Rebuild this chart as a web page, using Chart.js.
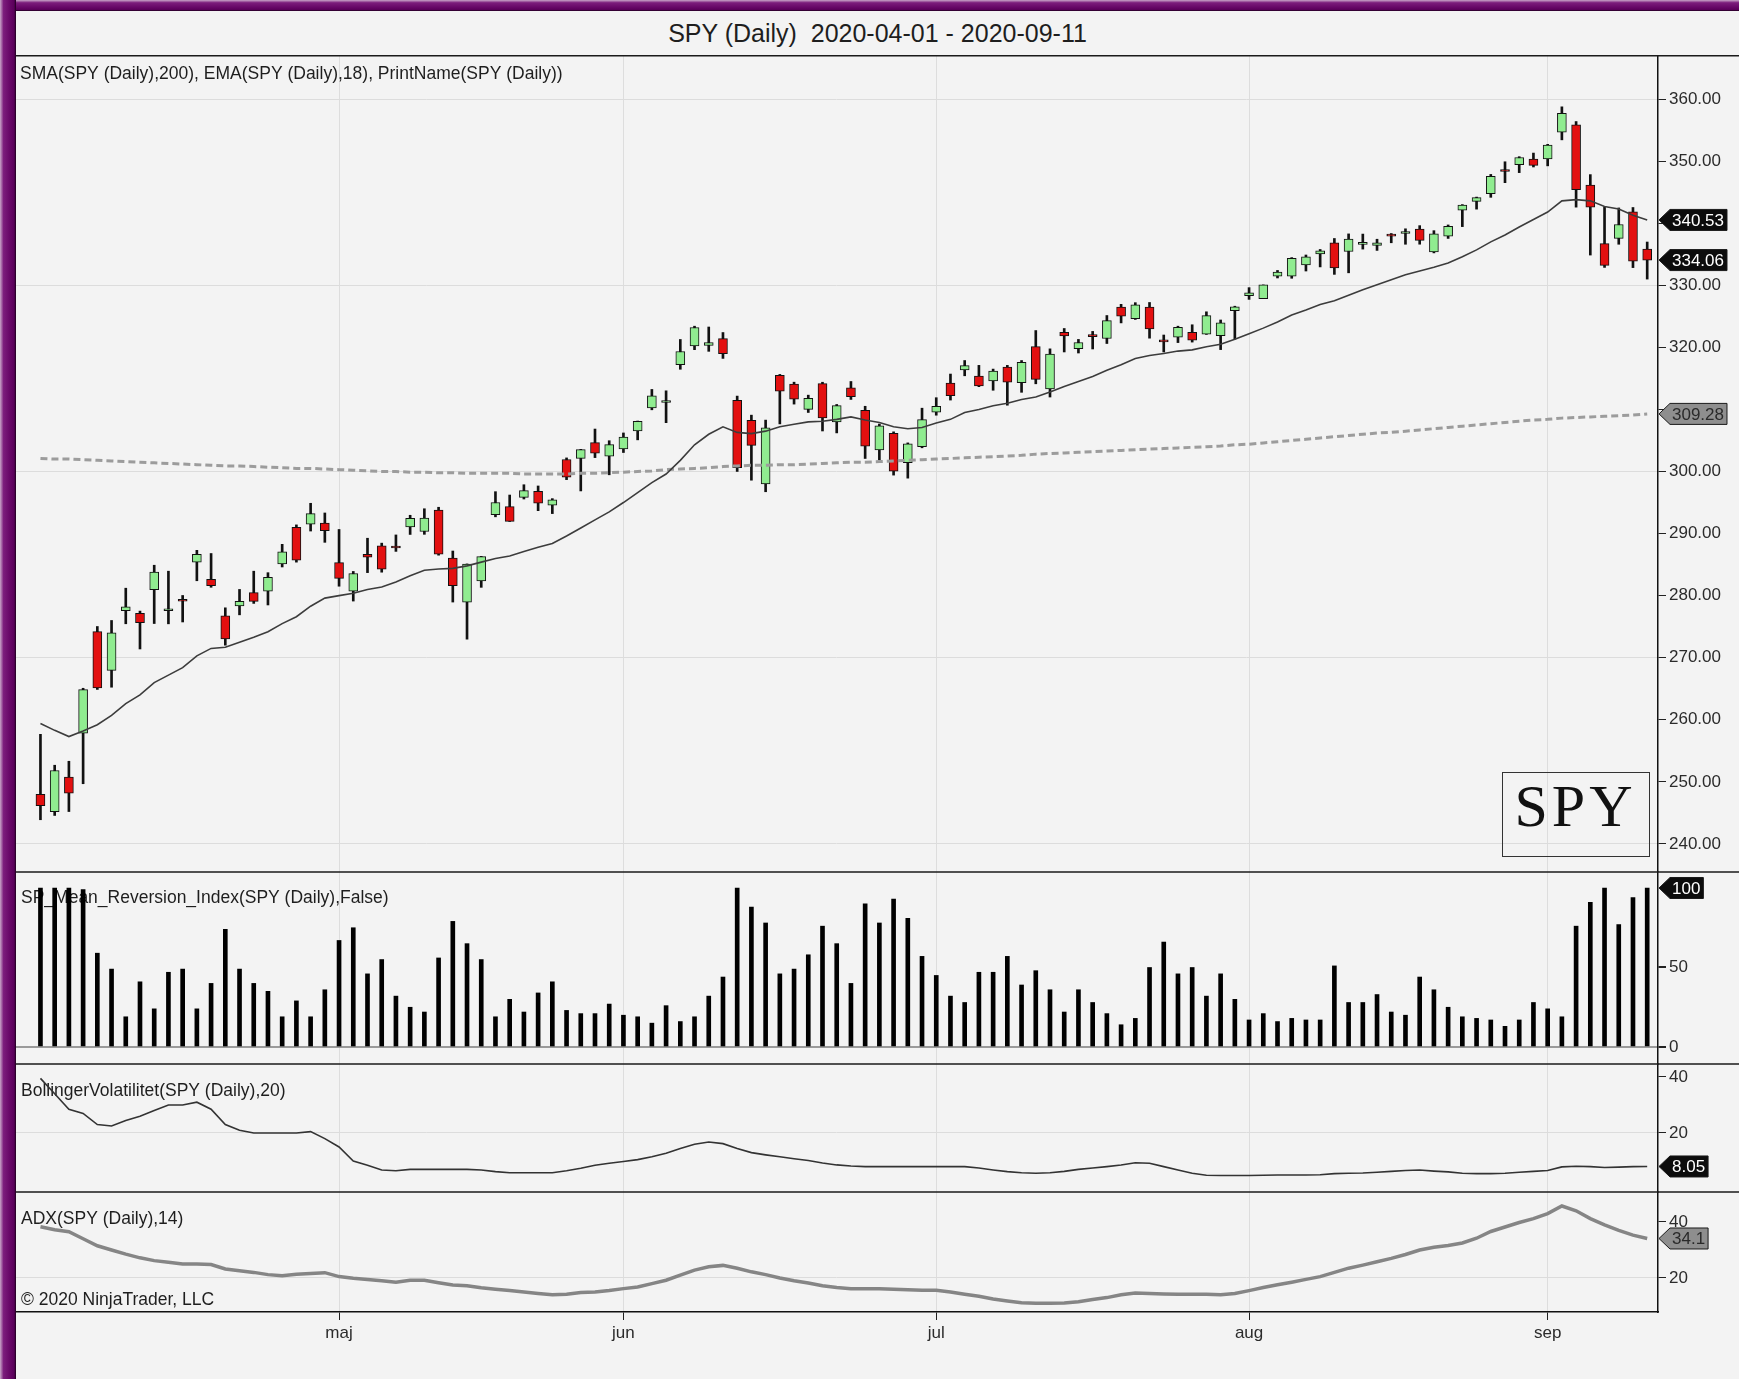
<!DOCTYPE html>
<html>
<head>
<meta charset="utf-8">
<script src="https://cdn.jsdelivr.net/npm/chart.js@4.4.1/dist/chart.umd.min.js"></script>
<style>
  html, body { margin: 0; padding: 0; }
  body { width: 1739px; height: 1379px; position: relative; overflow: hidden; background: #f3f3f3; font-family: "Liberation Sans", Arial, sans-serif; }
  #frameLeft { position: absolute; left: 0; top: 0; width: 16px; height: 1379px; background: linear-gradient(to right, #c9a6c9 0%, #7c1d7c 22%, #680868 60%, #5a005a 88%, #1c001c 100%); }
  #frameTop { position: absolute; left: 0; top: 0; width: 1739px; height: 11px; background: linear-gradient(to bottom, #c9a6c9 0%, #7c1d7c 25%, #680868 65%, #5a005a 88%, #1c001c 100%); }
  #title { position: absolute; left: 16px; width: 1723px; top: 18px; line-height: 30px; text-align: center; font-size: 25px; color: #1e1e1e; }
  #wrap { position: absolute; left: 16px; top: 55px; width: 1723px; height: 1324px; }
</style>
</head>
<body>
<div id="frameTop"></div>
<div id="frameLeft"></div>
<div id="title">SPY (Daily)&nbsp; 2020-04-01 - 2020-09-11</div>
<div id="wrap"><canvas id="spyChart"></canvas></div>
<script>
// trading days shown on the chart
const dates = [
  "2020-04-01","2020-04-02","2020-04-03","2020-04-06","2020-04-07","2020-04-08","2020-04-09","2020-04-13","2020-04-14","2020-04-15",
  "2020-04-16","2020-04-17","2020-04-20","2020-04-21","2020-04-22","2020-04-23","2020-04-24","2020-04-27","2020-04-28","2020-04-29",
  "2020-04-30","2020-05-01","2020-05-04","2020-05-05","2020-05-06","2020-05-07","2020-05-08","2020-05-11","2020-05-12","2020-05-13",
  "2020-05-14","2020-05-15","2020-05-18","2020-05-19","2020-05-20","2020-05-21","2020-05-22","2020-05-26","2020-05-27","2020-05-28",
  "2020-05-29","2020-06-01","2020-06-02","2020-06-03","2020-06-04","2020-06-05","2020-06-08","2020-06-09","2020-06-10","2020-06-11",
  "2020-06-12","2020-06-15","2020-06-16","2020-06-17","2020-06-18","2020-06-19","2020-06-22","2020-06-23","2020-06-24","2020-06-25",
  "2020-06-26","2020-06-29","2020-06-30","2020-07-01","2020-07-02","2020-07-06","2020-07-07","2020-07-08","2020-07-09","2020-07-10",
  "2020-07-13","2020-07-14","2020-07-15","2020-07-16","2020-07-17","2020-07-20","2020-07-21","2020-07-22","2020-07-23","2020-07-24",
  "2020-07-27","2020-07-28","2020-07-29","2020-07-30","2020-07-31","2020-08-03","2020-08-04","2020-08-05","2020-08-06","2020-08-07",
  "2020-08-10","2020-08-11","2020-08-12","2020-08-13","2020-08-14","2020-08-17","2020-08-18","2020-08-19","2020-08-20","2020-08-21",
  "2020-08-24","2020-08-25","2020-08-26","2020-08-27","2020-08-28","2020-08-31","2020-09-01","2020-09-02","2020-09-03","2020-09-04",
  "2020-09-08","2020-09-09","2020-09-10","2020-09-11"
];

const openP = [
  247.98,245.19,250.76,257.84,274.21,267.96,277.58,277.14,280.98,277.57,
  279.15,285.38,282.61,276.73,278.35,280.49,280.73,285.12,291.02,291.53,
  291.71,285.31,280.74,286.64,288.04,287.75,291.09,290.34,293.79,286.06,
  278.95,282.37,293.05,294.35,295.82,296.79,294.57,301.93,302.12,304.65,
  302.46,303.62,306.55,310.24,311.11,317.23,320.22,320.30,321.42,311.46,
  308.24,298.02,315.48,314.07,310.01,314.17,307.99,313.49,309.84,303.47,
  306.16,301.41,303.99,309.57,314.24,316.37,315.38,314.61,316.84,314.31,
  320.13,313.30,322.41,319.79,321.88,321.43,326.47,324.62,326.47,320.95,
  321.63,322.43,322.12,321.90,325.90,328.32,327.86,331.47,331.48,333.28,
  335.06,336.85,335.44,336.60,336.41,337.94,338.34,339.05,335.36,337.92,
  342.12,343.53,344.76,348.51,349.44,350.35,350.35,354.67,355.87,346.13,
  336.71,337.55,341.82,335.82
];
const highP = [
  257.66,252.68,253.32,265.08,275.03,276.00,281.20,277.51,284.90,283.94,
  280.03,287.30,286.79,278.04,281.00,283.94,283.70,288.27,291.40,294.88,
  293.32,290.66,283.90,289.25,288.46,289.78,292.95,294.00,294.24,287.19,
  285.11,286.33,296.75,296.21,297.87,297.67,295.63,302.19,303.57,306.84,
  304.96,306.21,308.13,313.22,313.00,321.27,323.41,323.28,322.39,312.15,
  309.08,308.28,315.64,314.39,312.30,314.38,310.80,314.50,310.51,307.64,
  306.39,304.61,310.20,311.89,315.70,317.88,317.10,316.50,317.10,317.88,
  322.71,319.76,323.04,321.28,322.57,325.13,326.93,327.20,327.23,321.99,
  323.41,323.64,325.73,324.41,326.63,329.62,330.06,332.39,334.46,334.88,
  335.77,337.54,338.28,338.25,337.42,338.34,339.10,339.61,338.80,339.72,
  343.00,344.21,347.86,349.90,350.72,351.30,352.71,358.75,356.38,347.83,
  342.64,342.46,342.53,336.97
];
const lowP = [
  243.90,244.59,245.22,249.70,264.89,265.25,275.47,271.41,275.51,275.46,
  275.76,282.40,281.35,272.02,276.91,278.75,278.50,284.62,285.40,290.41,
  288.59,281.52,279.13,283.71,283.78,287.13,289.86,289.88,286.52,278.97,
  272.99,281.34,292.70,291.95,295.57,293.69,293.22,298.69,296.87,302.24,
  299.47,303.06,305.10,309.94,307.87,316.47,319.63,319.36,318.22,300.01,
  298.60,296.74,307.67,310.86,309.51,306.53,306.22,311.61,302.10,301.88,
  299.42,298.93,303.82,309.07,311.51,315.42,313.67,313.09,310.68,312.76,
  314.13,312.00,319.26,319.09,319.74,320.62,323.94,324.50,321.48,319.25,
  320.77,320.85,322.08,319.64,321.33,327.73,327.86,331.18,331.13,332.30,
  332.96,331.76,332.01,335.83,335.62,336.85,336.61,336.62,335.22,337.55,
  339.45,342.27,344.17,346.53,348.15,349.06,349.24,353.43,342.59,334.87,
  332.88,336.61,332.85,331.00
];
const closeP = [
  246.15,251.83,248.19,264.86,265.13,274.03,278.20,275.66,283.79,277.76,
  279.10,286.64,281.59,273.04,279.08,279.08,282.97,287.05,285.73,293.21,
  290.48,282.79,283.57,286.19,284.25,287.68,292.44,292.50,286.67,281.60,
  285.07,286.28,295.00,291.97,296.93,294.88,295.44,299.08,303.53,302.97,
  304.32,305.55,308.08,312.18,311.36,319.34,323.20,320.79,319.00,300.61,
  304.21,307.05,312.96,311.66,311.78,308.64,310.62,312.05,304.09,307.35,
  300.05,304.46,308.36,310.52,312.23,317.05,313.78,316.18,314.38,317.59,
  314.84,318.92,321.85,320.79,321.72,324.32,325.01,326.86,322.96,320.88,
  323.22,321.17,325.12,323.96,326.52,328.79,330.06,332.11,334.33,334.57,
  335.57,332.80,337.44,336.83,336.84,337.91,338.64,337.23,338.28,339.48,
  342.92,344.12,347.57,348.33,350.58,349.31,352.60,357.70,345.39,342.57,
  333.21,339.79,333.89,334.06
];

const ema18 = [
  259.4,258.3,257.3,258.2,259.2,260.7,262.6,264.0,266.0,267.2,
  268.4,270.3,271.5,271.7,272.5,273.3,274.2,275.5,276.6,278.3,
  279.6,280.0,280.4,281.0,281.4,282.2,283.2,284.1,284.3,284.4,
  284.8,285.4,286.0,286.4,287.1,287.8,288.4,289.6,290.9,292.2,
  293.5,295.0,296.6,298.2,299.6,301.8,304.3,306.0,307.2,306.3,
  306.1,306.5,307.2,307.6,308.0,308.1,308.4,308.8,308.3,307.9,
  307.2,306.9,307.1,307.8,308.4,309.5,310.0,310.6,311.0,311.6,
  312.0,312.8,313.7,314.5,315.3,316.3,317.2,318.2,318.7,319.0,
  319.4,319.6,320.1,320.5,321.3,322.2,323.1,324.1,325.2,326.0,
  326.9,327.5,328.4,329.3,330.1,330.9,331.7,332.3,332.9,333.6,
  334.6,335.7,337.0,338.1,339.4,340.6,341.8,343.6,343.8,343.6,
  342.7,342.3,341.3,340.53
];
const sma200 = [
  302.1,302.0,302.0,301.9,301.8,301.7,301.6,301.5,301.4,301.3,
  301.2,301.1,301.0,300.9,300.9,300.8,300.7,300.6,300.5,300.5,
  300.4,300.3,300.2,300.1,300.0,300.0,299.9,299.9,299.8,299.8,
  299.7,299.7,299.7,299.7,299.6,299.6,299.6,299.6,299.7,299.7,
  299.8,299.9,300.0,300.1,300.3,300.4,300.5,300.6,300.8,300.9,
  301.0,301.0,301.1,301.1,301.2,301.3,301.4,301.5,301.5,301.6,
  301.7,301.8,301.9,302.0,302.1,302.2,302.3,302.4,302.5,302.6,
  302.8,302.9,303.0,303.1,303.2,303.3,303.4,303.5,303.6,303.7,
  303.8,303.9,304.0,304.1,304.3,304.4,304.6,304.8,305.0,305.2,
  305.4,305.6,305.8,306.0,306.2,306.3,306.5,306.7,306.9,307.1,
  307.3,307.5,307.7,307.9,308.1,308.3,308.4,308.6,308.7,308.8,
  308.9,309.0,309.1,309.28
];

const meanRev = [
  100,100,100,99,59,49,19,41,24,47,
  49,24,40,74,49,40,35,19,29,19,
  36,67,75,46,55,32,25,22,56,79,
  65,55,19,30,22,34,41,23,21,21,
  27,20,19,15,26,16,19,32,44,100,
  88,78,46,49,58,76,65,40,90,78,
  93,81,57,45,32,28,47,47,57,39,
  48,36,22,36,28,21,14,18,50,66,
  46,50,32,46,30,17,21,16,18,17,
  17,51,28,28,33,22,20,44,36,25,
  19,18,17,13,17,28,24,19,76,91,
  100,77,94,100
];
const bollVol = [
  39.5,34,28.5,27,23,22.5,24.5,26,28,30,
  30,31,28.5,23,21,20,20,20,20,20.5,
  18,15,10,8.5,6.8,6.5,7,7,7,7,
  7,6.8,6.2,5.8,5.8,5.8,5.8,6.5,7.4,8.5,
  9.2,9.8,10.5,11.5,12.8,14.5,16,16.8,16.2,14.5,
  13,12.2,11.5,10.8,10.2,9.3,8.6,8.2,8,8,
  8,8,8,8,8,8,7.5,6.8,6.2,5.8,
  5.6,5.8,6.3,7.0,7.5,8.0,8.6,9.4,9.2,8.0,
  6.8,5.6,4.9,4.8,4.8,4.8,4.9,5.0,5.0,5.0,
  5.1,5.5,5.6,5.7,6.0,6.3,6.6,6.8,6.4,6.1,
  5.6,5.5,5.5,5.6,6.0,6.3,6.6,7.9,8.1,8.0,
  7.7,7.8,8.0,8.05
];
const adx14 = [
  38.3,37.2,36.5,34,31.5,30,28.5,27.2,26.2,25.6,
  25,25,24.8,23.2,22.6,22,21.2,20.8,21.3,21.6,
  21.9,20.5,19.9,19.5,19,18.5,19.2,19.2,18.3,17.5,
  17.2,16.5,16,15.5,15,14.5,14,14.2,14.8,15,
  15.5,16.2,16.8,18,19.2,21,22.8,24,24.5,23.5,
  22.2,21.2,20,19,18.2,17.2,16.6,16.2,16.2,16.2,
  16,15.8,15.6,15.6,15,14.2,13.5,12.5,11.8,11.2,
  11,11,11.1,11.5,12.3,13,14,14.6,14.5,14.3,
  14.2,14.2,14.2,14,14.5,15.5,16.6,17.6,18.5,19.5,
  20.5,22,23.5,24.6,25.8,27,28.4,30,31,31.6,
  32.5,34.2,36.6,38.2,39.8,41.2,43,45.7,44,41.2,
  39,37,35.3,34.1
];

const monthNames = { "05": "maj", "06": "jun", "07": "jul", "08": "aug", "09": "sep" };
const priceTicks = [240, 250, 260, 270, 280, 290, 300, 310, 320, 330, 340, 350, 360];
const priceGrid = [240, 270, 300, 330, 360];
const mrTicks = [0, 50];
const bvTicks = [20, 40];
const adxTicks = [20, 40];
const panelLabels = [
  "SMA(SPY (Daily),200), EMA(SPY (Daily),18), PrintName(SPY (Daily))",
  "SP_Mean_Reversion_Index(SPY (Daily),False)",
  "BollingerVolatilitet(SPY (Daily),20)",
  "ADX(SPY (Daily),14)"
];
const copyrightText = "\u00a9 2020 NinjaTrader, LLC";
const instrument = "SPY";

// first trading day of each month gets a tick
const monthStarts = [];
const monthLabels = [];
dates.forEach((d, i) => {
  const m = d.slice(5, 7);
  if (i > 0 && m !== dates[i - 1].slice(5, 7)) {
    monthStarts.push(i);
    monthLabels.push(monthNames[m]);
  }
});

const last = dates.length - 1;
const bodyColors = openP.map((o, i) => (closeP[i] >= o ? "#90ec90" : "#e31010"));

// price labels sitting under one of the last-value tags are not printed
const priceTags = [sma200[last], ema18[last], closeP[last]];
const priceLabel = v => (priceTags.some(t => Math.abs(t - v) < 1.5) ? "" : v.toFixed(2));

Chart.defaults.font.family = '"Liberation Sans", Arial, sans-serif';

const FONT = '17px "Liberation Sans", Arial, sans-serif';
const LABEL_FONT = '17.5px "Liberation Sans", Arial, sans-serif';

function drawTag(ctx, x, y, text, bg, fg) {
  ctx.font = FONT;
  const w = ctx.measureText(text).width;
  const h = 21, tip = 12;
  const right = x + tip + w + 5;
  ctx.beginPath();
  ctx.moveTo(x + 1, y);
  ctx.lineTo(x + tip, y - h / 2);
  ctx.lineTo(right, y - h / 2);
  ctx.lineTo(right, y + h / 2);
  ctx.lineTo(x + tip, y + h / 2);
  ctx.closePath();
  ctx.fillStyle = bg;
  ctx.fill();
  ctx.strokeStyle = "#1a1a1a";
  ctx.lineWidth = 1;
  ctx.stroke();
  ctx.fillStyle = fg;
  ctx.textAlign = "left";
  ctx.textBaseline = "middle";
  ctx.fillText(text, x + tip + 2, y + 1);
}

const panelPlugin = {
  id: "panels",
  beforeDatasetsDraw(chart) {
    const ctx = chart.ctx;
    const s = chart.scales;
    ctx.save();
    ctx.font = LABEL_FONT;
    ctx.fillStyle = "#1e1e1e";
    ctx.textAlign = "left";
    ctx.textBaseline = "middle";
    ctx.fillText(panelLabels[0], 4, s.yPrice.top + 19);
    ctx.fillText(panelLabels[1], 5, s.yMR.top + 26);
    ctx.fillText(panelLabels[2], 5, s.yBV.top + 27);
    ctx.fillText(panelLabels[3], 5, s.yADX.top + 27);
    ctx.fillText(copyrightText, 5, s.yADX.bottom - 12);
    ctx.restore();
  },
  afterDatasetsDraw(chart) {
    const ctx = chart.ctx;
    const s = chart.scales;
    const right = chart.chartArea.right - 9;
    const bottom = s.yPrice.bottom - 16;
    ctx.save();
    ctx.strokeStyle = "#333";
    ctx.lineWidth = 1;
    ctx.strokeRect(right - 147 + 0.5, bottom - 84 + 0.5, 147, 84);
    ctx.font = '60px "Liberation Serif", "DejaVu Serif", serif';
    ctx.fillStyle = "#111";
    ctx.textAlign = "center";
    ctx.textBaseline = "middle";
    ctx.letterSpacing = "4px";
    ctx.fillText(instrument, right - 73.5, bottom - 46);
    ctx.restore();
  },
  afterDraw(chart) {
    const ctx = chart.ctx;
    const s = chart.scales;
    const w = chart.width;
    ctx.save();
    ctx.strokeStyle = "#1a1a1a";
    ctx.lineWidth = 1.5;
    [0.75, s.yPrice.bottom, s.yMR.bottom, s.yBV.bottom].forEach(y => {
      ctx.beginPath();
      ctx.moveTo(0, y);
      ctx.lineTo(w, y);
      ctx.stroke();
    });
    const ax = chart.chartArea.right;
    drawTag(ctx, ax, s.yPrice.getPixelForValue(sma200[last]), sma200[last].toFixed(2), "#8e8e8e", "#2a2a2a");
    drawTag(ctx, ax, s.yPrice.getPixelForValue(ema18[last]), ema18[last].toFixed(2), "#0c0c0c", "#ffffff");
    drawTag(ctx, ax, s.yPrice.getPixelForValue(closeP[last]), closeP[last].toFixed(2), "#0c0c0c", "#ffffff");
    drawTag(ctx, ax, s.yMR.getPixelForValue(meanRev[last]), String(meanRev[last]), "#0c0c0c", "#ffffff");
    drawTag(ctx, ax, s.yBV.getPixelForValue(bollVol[last]), bollVol[last].toFixed(2), "#0c0c0c", "#ffffff");
    drawTag(ctx, ax, s.yADX.getPixelForValue(adx14[last]), adx14[last].toFixed(1), "#8e8e8e", "#2a2a2a");
    ctx.restore();
  }
};

function panelAxis(min, max, weight, tickList, fmt, gridColor, gridWidth) {
  return {
    type: "linear",
    position: "right",
    stack: "panels",
    stackWeight: weight,
    min: min,
    max: max,
    afterBuildTicks: sc => { sc.ticks = tickList.map(v => ({ value: v })); },
    afterFit: sc => { sc.width = 81; sc.paddingTop = 0; sc.paddingBottom = 0; },
    ticks: { callback: fmt, color: "#2b2b2b", font: { size: 17 }, padding: 3 },
    grid: { color: gridColor, lineWidth: gridWidth, tickColor: "#222", tickLength: 8 },
    border: { color: "#111", width: 1.5 }
  };
}

const ctx = document.getElementById("spyChart");

const spyChart = new Chart(ctx, {
  type: "bar",
  data: {
    datasets: [
      {
        type: "line",
        label: "SMA 200",
        data: sma200.map((v, i) => ({ x: i, y: v })),
        yAxisID: "yPrice",
        borderColor: "#9c9c9c",
        borderWidth: 3,
        borderDash: [7, 4],
        pointRadius: 0,
        order: 1
      },
      {
        type: "line",
        label: "EMA 18",
        data: ema18.map((v, i) => ({ x: i, y: v })),
        yAxisID: "yPrice",
        borderColor: "#3c3c3c",
        borderWidth: 1.6,
        pointRadius: 0,
        order: 0
      },
      {
        type: "bar",
        label: "Body",
        data: openP.map((o, i) => ({ x: i, y: [o, closeP[i]] })),
        yAxisID: "yPrice",
        backgroundColor: bodyColors,
        borderColor: "#111",
        borderWidth: 1,
        borderSkipped: false,
        barThickness: 9,
        minBarLength: 2,
        grouped: false,
        order: 2
      },
      {
        type: "bar",
        label: "Wick",
        data: lowP.map((l, i) => ({ x: i, y: [l, highP[i]] })),
        yAxisID: "yPrice",
        backgroundColor: "#111",
        barThickness: 2,
        grouped: false,
        order: 3
      },
      {
        type: "bar",
        label: "Mean Reversion",
        data: meanRev.map((v, i) => ({ x: i, y: v })),
        yAxisID: "yMR",
        backgroundColor: "#000",
        barThickness: 4,
        grouped: false,
        order: 2
      },
      {
        type: "line",
        label: "Bollinger Volatilitet",
        data: bollVol.map((v, i) => ({ x: i, y: v })),
        yAxisID: "yBV",
        borderColor: "#333",
        borderWidth: 1.6,
        pointRadius: 0,
        order: 1
      },
      {
        type: "line",
        label: "ADX",
        data: adx14.map((v, i) => ({ x: i, y: v })),
        yAxisID: "yADX",
        borderColor: "#858585",
        borderWidth: 3.5,
        pointRadius: 0,
        order: 1
      }
    ]
  },
  options: {
    responsive: true,
    maintainAspectRatio: false,
    animation: false,
    events: [],
    layout: { padding: 0 },
    plugins: {
      legend: { display: false },
      tooltip: { enabled: false },
      title: { display: false }
    },
    scales: {
      x: {
        type: "linear",
        min: -1.72,
        max: last + 0.76,
        offset: false,
        afterBuildTicks: sc => { sc.ticks = monthStarts.map(v => ({ value: v })); },
        afterFit: sc => { sc.height = 67; sc.paddingLeft = 0; sc.paddingRight = 0; },
        ticks: {
          callback: (v, i) => monthLabels[i],
          color: "#2b2b2b",
          font: { size: 17 },
          padding: 3,
          maxRotation: 0,
          autoSkip: false
        },
        grid: { color: "#dddddd", lineWidth: 1, tickColor: "#222", tickLength: 8, offset: false },
        border: { color: "#111", width: 1.5 }
      },
      yPrice: panelAxis(235.48, 367.1, 817, priceTicks, priceLabel,
        c => (c.tick && priceGrid.includes(c.tick.value)) ? "#dcdcdc" : "rgba(0,0,0,0)", 1),
      yMR: panelAxis(-10.69, 110.06, 192, mrTicks, v => String(v),
        c => (c.tick && c.tick.value === 0) ? "#9a9a9a" : "rgba(0,0,0,0)", 2),
      yBV: panelAxis(-1.07, 44.64, 128, bvTicks, v => String(v),
        c => (c.tick && c.tick.value === 20) ? "#dcdcdc" : "rgba(0,0,0,0)", 1),
      yADX: panelAxis(7.86, 50.7, 120, adxTicks, v => String(v),
        c => (c.tick && c.tick.value === 20) ? "#dcdcdc" : "rgba(0,0,0,0)", 1)
    }
  },
  plugins: [panelPlugin]
});
</script>
</body>
</html>
